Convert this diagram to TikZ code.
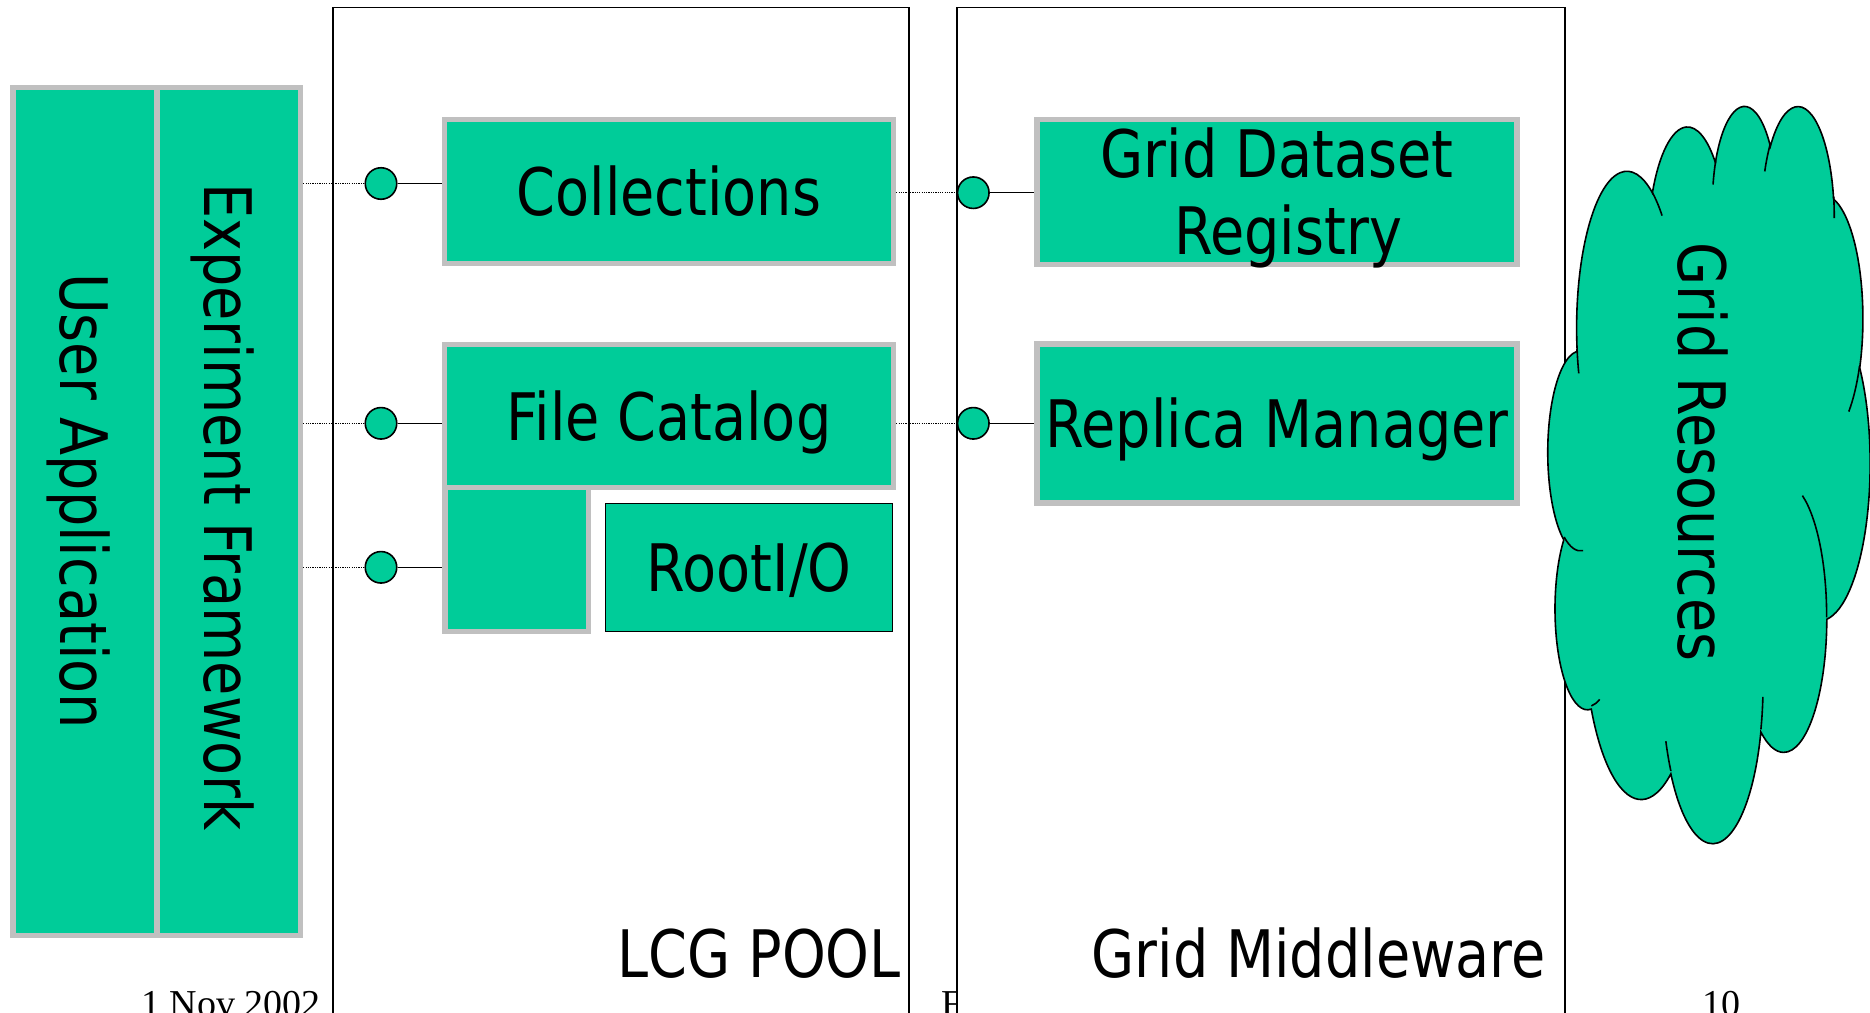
\documentclass[tikz,border=0pt]{standalone}
\usepackage{fontspec}
\newfontfamily\tah[FakeStretch=0.85]{DejaVu Sans}
\newfontfamily\tms{Liberation Serif}
\definecolor{pgreen}{RGB}{0,204,153}
\definecolor{pgray}{RGB}{192,192,192}
\newcommand\dmlarc[4]{arc[start angle={atan2((#1)*sin(#3),(#2)*cos(#3))}, delta angle={mod(atan2((#1)*sin((#3)+(#4)),(#2)*cos((#3)+(#4)))-atan2((#1)*sin(#3),(#2)*cos(#3))+720,360)}, x radius=#1, y radius=#2]}
\tikzset{
  bigfont/.style={font=\tah\fontsize{65.5}{77}\selectfont},
  gbox/.style={rectangle, fill=pgreen, draw=pgray, line width=5.5pt, inner sep=0pt,
    bigfont, text height=48pt, text depth=0pt, align=center},
  rbox/.style={rectangle, fill=pgreen, draw=black, line width=1.5pt, inner sep=0pt,
    bigfont, text height=48pt, text depth=0pt},
  layer/.style={rectangle, fill=white, draw=black, line width=1.7pt, inner sep=0pt},
  vlabel/.style={bigfont, rotate=-90, inner sep=0pt, text height=48pt, text depth=0pt},
  title/.style={bigfont, inner sep=0pt, anchor=base east},
  foot/.style={font=\tms\fontsize{38}{40}\selectfont, inner sep=0pt, anchor=base west},
  port/.style={circle, fill=pgreen, draw=black, line width=1.6pt, minimum size=31.5pt, inner sep=0pt},
  wire/.style={draw=black, line width=1.5pt},
  dotwire/.style={draw=black, line width=1.3pt, dash pattern=on 1.2pt off 1.1pt},
  cloudline/.style={draw=black, line width=1.6pt}
}
\begin{document}
\begin{tikzpicture}[x=1pt, y=-1pt]
\useasboundingbox (0,0) rectangle (1870,1012);
\clip (0,0) rectangle (1870,1012);

% footer
\node[foot] (date) at (141,1016) {1 Nov 2002};
\node[foot] (ftr) at (941,1016) {F};
\node[foot] (page) at (1702,1016) {10};

% layer frames
\node[layer, minimum width=576pt, minimum height=1040pt] (pool) at (621,527.5) {};
\node[layer, minimum width=608pt, minimum height=1040pt] (gmw) at (1261,527.5) {};
\node[title] (poolt) at (901,977) {LCG POOL};
\node[title] (gmwt) at (1546,977) {Grid Middleware};

% left block
\node[gbox, minimum width=144pt, minimum height=848pt] (ua) at (85,511.5) {};
\node[gbox, minimum width=143.5pt, minimum height=848pt] (ef) at (228.75,511.5) {};
\node[vlabel] (uat) at (84,501) {User Application};
\node[vlabel] (eft) at (228.5,507) {Experiment Framework};

% POOL components
\node[gbox, minimum width=449pt, minimum height=144pt] (coll) at (669,191.5) {Collections};
\node[gbox, minimum width=143.5pt, minimum height=144pt] (sq) at (516.75,559.5) {};
\node[gbox, minimum width=449pt, minimum height=143pt] (fc) at (669,416) {File Catalog};
\node[rbox, minimum width=287.4pt, minimum height=127.6pt] (rio) at (749,567.5) {RootI/O};

% middleware components
\node[gbox, minimum width=480pt, minimum height=145pt, text height=125pt, text depth=0pt] (gdr) at (1277,192) {Grid Dataset\\\hspace*{22pt}Registry};
\node[gbox, minimum width=480pt, minimum height=159pt] (rm) at (1277,423.5) {Replica Manager};

% ports
\node[port] (p1) at (381,183.5) {};
\node[port] (p2) at (381,423.3) {};
\node[port] (p3) at (381,567.3) {};
\node[port] (p4) at (973.3,192.7) {};
\node[port] (p5) at (973.3,423.3) {};

\path[dotwire] (ef.east |- p1) -- (p1.west);
\path[dotwire] (ef.east |- p2) -- (p2.west);
\path[dotwire] (ef.east |- p3) -- (p3.west);
\path[dotwire] (coll.east |- p4) -- (p4.west);
\path[dotwire] (fc.east |- p5) -- (p5.west);
\path[wire] (p1.east) -- (p1 -| coll.west);
\path[wire] (p2.east) -- (p2 -| fc.west);
\path[wire] (p3.east) -- (p3 -| sq.west);
\path[wire] (p4.east) -- (p4 -| gdr.west);
\path[wire] (p5.east) -- (p5 -| rm.west);

% cloud (grid resources)
\begin{scope}[shift={(1548pt,-104pt)}, x=0.74537pt, y=-1.70602pt]
\path[cloudline, fill=pgreen] (39,143.7)
  \dmlarc{67.53}{91.90}{-190.487}{123.781}
  \dmlarc{53.33}{72.67}{-144.102}{89.945}
  \dmlarc{43.65}{59.45}{-145.808}{99.723}
  \dmlarc{48.57}{65.95}{-130.986}{117.242}
  \dmlarc{53.33}{72.73}{-78.709}{109.027}
  \dmlarc{67.75}{92.20}{-46.267}{130.269}
  \dmlarc{57.85}{78.67}{0.625}{114.033}
  \dmlarc{67.52}{92.15}{22.452}{115.173}
  \dmlarc{77.20}{105.43}{66.243}{75.711}
  \dmlarc{43.60}{59.18}{-274.942}{146.736}
  \dmlarc{43.45}{59.45}{-246.829}{152.519}
  -- cycle;
\path[cloudline]
  (46.93,261.77) \dmlarc{43.45}{59.45}{86.742}{26.430}
  (69.28,348.99) \dmlarc{43.60}{59.18}{73.610}{11.447}
  (164.78,390.90) \dmlarc{67.52}{92.15}{137.624}{14.081}
  (288.27,347.51) \dmlarc{67.52}{92.15}{6.453}{15.998}
  (341.29,229.54) \dmlarc{57.85}{78.67}{-70.292}{70.917}
  (417.98,153.54) \dmlarc{53.33}{72.73}{30.318}{27.752}
  (383.24,54.26) \dmlarc{48.57}{65.95}{-13.744}{14.859}
  (290.78,39.52) \dmlarc{48.57}{65.95}{-149.181}{18.195}
  (221.41,47.20) \dmlarc{43.65}{59.45}{-163.494}{17.686}
  (140.00,51.92) \dmlarc{67.53}{91.90}{-66.707}{12.319}
  (41.27,157.89) \dmlarc{67.53}{91.90}{157.654}{11.858};
\end{scope}
\node[vlabel] (grt) at (1702,452) {Grid Resources};
\end{tikzpicture}
\end{document}
